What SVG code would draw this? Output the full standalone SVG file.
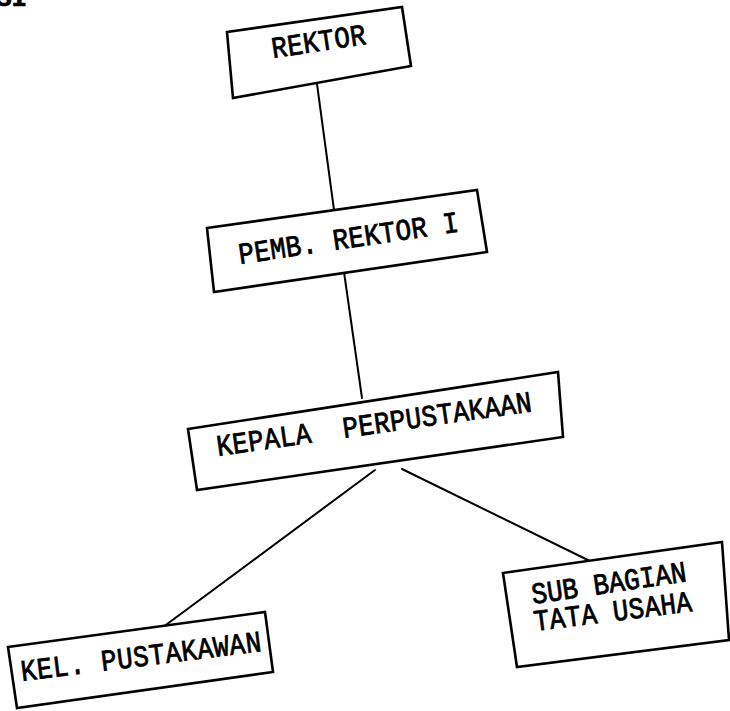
<svg xmlns="http://www.w3.org/2000/svg" width="730" height="711" viewBox="0 0 730 711">
  <style>
    .box { fill: #ffffff; stroke: #000000; stroke-width: 2.6; stroke-linejoin: miter; }
    .link { fill: none; stroke: #000000; stroke-width: 2; stroke-linecap: round; }
    .lbl { font-family: "Liberation Mono", "Courier New", monospace; font-size: 26px; fill: #000000; stroke: #000000; stroke-width: 0.7; }
  </style>
  <rect width="730" height="711" fill="#ffffff"/>

  <!-- heading remnant at the top edge -->
  <text class="lbl" x="-4" y="6" font-weight="bold">SI</text>

  <g id="connectors">
    <line class="link" x1="317" y1="84" x2="334" y2="210"/>
    <line class="link" x1="344" y1="272" x2="362" y2="398"/>
    <line class="link" x1="375" y1="470" x2="155" y2="633"/>
    <line class="link" x1="402" y1="469" x2="598" y2="565"/>
  </g>

  <!-- labels: rotated with the boxes, slightly stretched vertically -->
  <g id="rektor">
    <polygon class="box" points="227,32 402,7 411,66 233,98"/>
    <text class="lbl" transform="translate(273 58) rotate(-8.5) scale(1 1.15)" textLength="95">REKTOR</text>
  </g>

  <g id="pemb-rektor-1">
    <polygon class="box" points="207,228 477,190 487,252 214,292"/>
    <text class="lbl" transform="translate(240 264) rotate(-8.4) scale(1 1.15)" textLength="222">PEMB. REKTOR I</text>
  </g>

  <g id="kepala-perpustakaan">
    <polygon class="box" points="188,429 558,372 563,437 197,490"/>
    <text class="lbl" transform="translate(218 456) rotate(-8.1) scale(1 1.15)" textLength="318" xml:space="preserve">KEPALA  PERPUSTAKAAN</text>
  </g>

  <g id="kel-pustakawan">
    <polygon class="box" points="8,647 265,612 273,672 17,708"/>
    <text class="lbl" transform="translate(22 681) rotate(-7.1) scale(1 1.15)" textLength="242">KEL. PUSTAKAWAN</text>
  </g>

  <g id="sub-bagian-tata-usaha">
    <polygon class="box" points="503,573 722,542 729,640 517,667"/>
    <text class="lbl" transform="translate(533 604) rotate(-8.4) scale(1 1.15)" textLength="156">SUB BAGIAN</text>
    <text class="lbl" transform="translate(535 631) rotate(-7.2) scale(1 1.15)" textLength="159">TATA USAHA</text>
  </g>
</svg>
